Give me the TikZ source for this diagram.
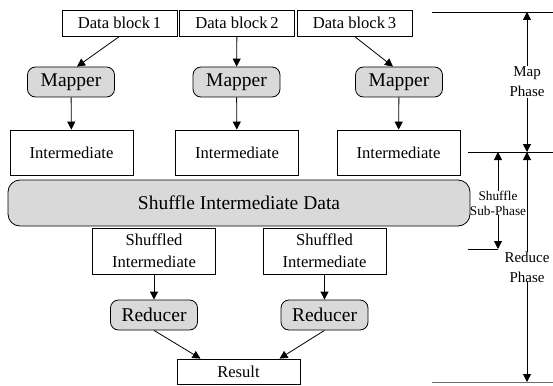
\documentclass[tikz,border=0pt]{standalone}
\usepackage{fontspec}
\setmainfont{Liberation Serif}
\usetikzlibrary{arrows.meta,positioning}
\definecolor{procgray}{RGB}{217,217,217}
\definecolor{rulegray}{RGB}{110,110,110}

\begin{document}
\begin{tikzpicture}[
    x=1pt, y=-1pt,
    datablk/.style={rectangle, draw, line width=0.8pt, minimum width=115pt, minimum height=26pt, inner sep=0pt, font=\fontsize{16.6}{18}\selectfont},
    proc/.style={rectangle, rounded corners=8pt, draw, fill=procgray, line width=0.8pt, minimum width=87pt, minimum height=30pt, inner sep=0pt, font=\fontsize{19.5}{21}\selectfont},
    inter/.style={rectangle, draw, line width=0.8pt, minimum width=123pt, minimum height=45pt, align=center, inner sep=0pt, font=\fontsize{16.6}{22}\selectfont},
    phase/.style={align=center, inner sep=1pt, font=\fontsize{15}{20}\selectfont},
    arrow/.style={-{Triangle[length=8pt,width=8pt]}, line width=0.8pt},
    rule/.style={line width=0.8pt}
]
\useasboundingbox (0,0) rectangle (553,385);

% map side
\node[datablk] (db1) at (119.5,23) {Data block\,1};
\node[datablk] (db2) at (237,23) {Data block\,2};
\node[datablk] (db3) at (354.5,23) {Data block\,3};

\node[proc] (map1) at (71,82) {Mapper};
\node[proc] (map2) at (236.5,82) {Mapper};
\node[proc] (map3) at (399,82) {Mapper};

\node[inter] (int1) at (71.5,152.5) {Intermediate};
\node[inter] (int2) at (237,152.5) {Intermediate};
\node[inter] (int3) at (398.5,152.5) {Intermediate};

\node[proc, rounded corners=12pt, minimum width=462pt, minimum height=46pt] (shuf) at (239,203) {Shuffle Intermediate Data};

% reduce side
\node[inter, minimum height=46pt] (sh1) at (154,251) {Shuffled\\Intermediate};
\node[inter, minimum height=46pt] (sh2) at (324.5,251) {Shuffled\\Intermediate};

\node[proc] (red1) at (154,315) {Reducer};
\node[proc] (red2) at (324.5,315) {Reducer};

\node[datablk, minimum width=123pt, minimum height=25pt] (res) at (238.5,371.5) {Result};

\draw[arrow] (db1.south) -- ([xshift=6pt]map1.north);
\draw[arrow] (db2) -- (map2);
\draw[arrow] (db3.south) -- ([xshift=-6pt]map3.north);
\draw[arrow] (map1) -- (int1);
\draw[arrow] (map2) -- (int2);
\draw[arrow] (map3) -- (int3);
\draw[arrow] (sh1) -- (red1);
\draw[arrow] (sh2) -- (red2);
\draw[arrow] (red1.south) -- ([xshift=-38pt]res.north);
\draw[arrow] (red2.south) -- ([xshift=41pt]res.north);

% phase scale
\coordinate (top0) at (432,12);
\coordinate (top1) at (553,12);
\coordinate (mid0) at (468,152);
\coordinate (mid1) at (553,152);
\coordinate (sub0) at (468,249);
\coordinate (bot0) at (432,382);
\coordinate (bot1) at (553,382);

\draw[rule] (top0) -- (top1);
\draw[rule] (mid0) -- (mid1);
\draw[rule] (sub0) -- (498,249);
\draw[rule, rulegray] (bot0) -- (bot1);

\node[phase] (mapph) at (527,82) {Map\\Phase};
\node[phase, font=\fontsize{13.3}{15}\selectfont, inner sep=0pt] (shufph) at (498,203) {Shuffle\\Sub-Phase};
\node[phase, inner sep=0pt] (redph) at (527,267) {Reduce\\Phase};

\draw[arrow] (mapph) -- (527,12);
\draw[arrow] (mapph) -- (527,152);
\draw[arrow] (shufph) -- (498,152);
\draw[arrow] (shufph) -- (498,249);
\draw[arrow] (redph.north -| 527,0) -- (527,152);
\draw[arrow] (redph.south -| 527,0) -- (527,382);

\end{tikzpicture}
\end{document}
